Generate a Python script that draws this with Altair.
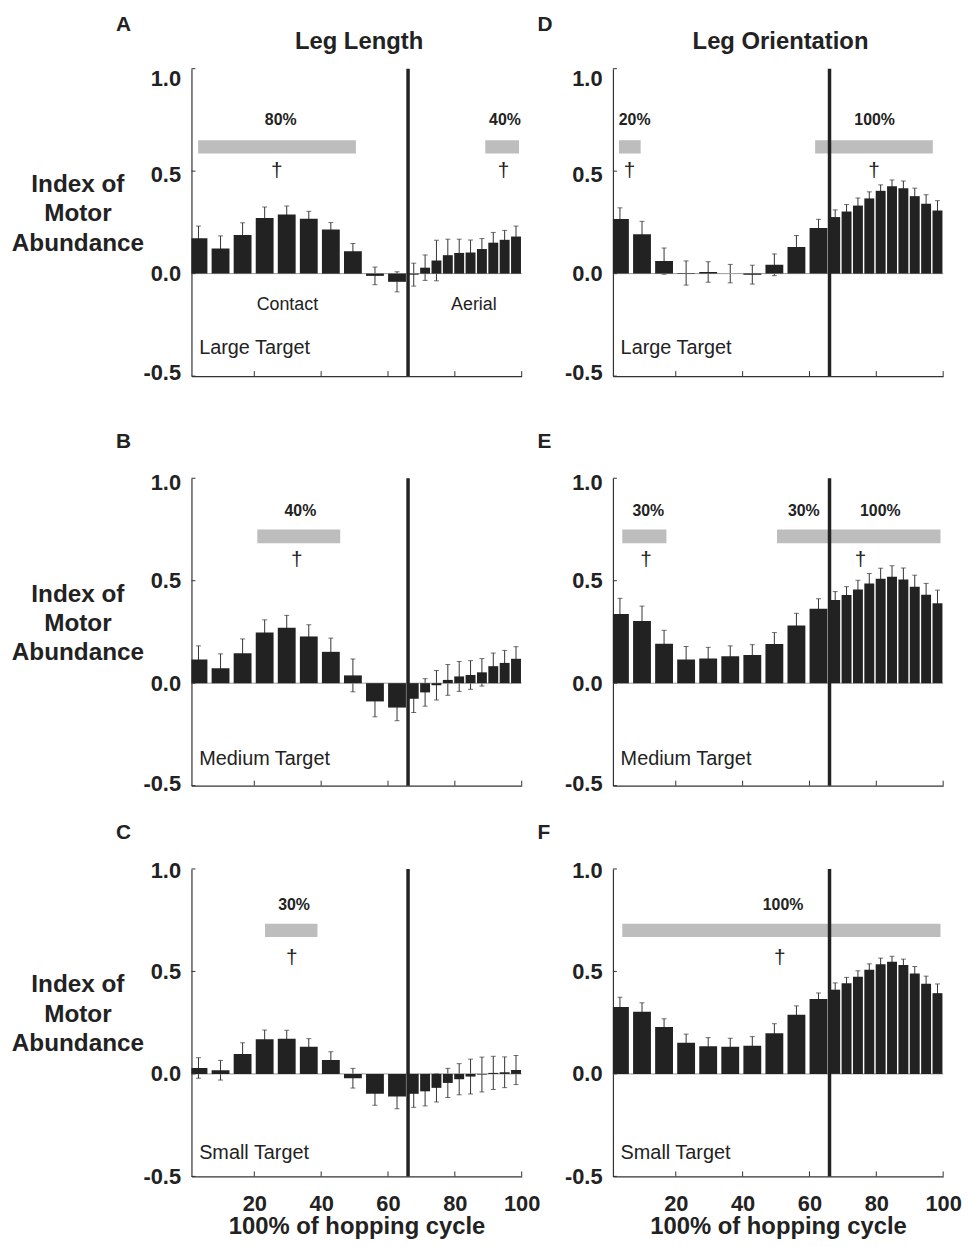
import altair as alt
import pandas as pd

FONT = "Liberation Sans, Arial, sans-serif"
INK = "#222222"

# ---------------- data ----------------
# bin centres (% of hopping cycle): 10 contact bins (0-66 %), 10 aerial bins (66-100 %)
cycle = [3.3, 9.9, 16.5, 23.1, 29.7, 36.3, 42.9, 49.5, 56.1, 62.7,
         67.7, 71.1, 74.5, 77.9, 81.3, 84.7, 88.1, 91.5, 94.9, 98.3]
phase = ["contact"] * 10 + ["aerial"] * 10
phase_boundary = [66]
x_tick_values = [20, 40, 60, 80, 100]
y_tick_values = [-0.5, 0.0, 0.5, 1.0]

A_vals = [0.173, 0.123, 0.189, 0.272, 0.288, 0.268, 0.215, 0.109, -0.011, -0.040,
          -0.005, 0.029, 0.064, 0.090, 0.101, 0.103, 0.120, 0.151, 0.165, 0.181]
A_errs = [0.059, 0.061, 0.059, 0.053, 0.042, 0.036, 0.034, 0.038, 0.043, 0.049,
          0.056, 0.062, 0.099, 0.078, 0.067, 0.061, 0.051, 0.050, 0.046, 0.051]

D_vals = [0.266, 0.192, 0.061, 0.003, 0.008, 0.000, -0.005, 0.043, 0.130, 0.223,
          0.276, 0.303, 0.332, 0.367, 0.404, 0.426, 0.417, 0.378, 0.341, 0.308]
D_errs = [0.055, 0.063, 0.064, 0.059, 0.050, 0.045, 0.046, 0.053, 0.056, 0.042,
          0.035, 0.034, 0.037, 0.032, 0.029, 0.031, 0.035, 0.039, 0.044, 0.048]

B_vals = [0.115, 0.073, 0.146, 0.247, 0.271, 0.228, 0.153, 0.038, -0.089, -0.119,
          -0.076, -0.045, -0.010, 0.016, 0.033, 0.040, 0.053, 0.083, 0.099, 0.119]
B_errs = [0.067, 0.070, 0.070, 0.062, 0.060, 0.057, 0.067, 0.080, 0.075, 0.064,
          0.067, 0.067, 0.072, 0.075, 0.073, 0.070, 0.067, 0.064, 0.061, 0.059]

E_vals = [0.338, 0.303, 0.193, 0.115, 0.121, 0.131, 0.137, 0.191, 0.282, 0.363,
          0.406, 0.430, 0.457, 0.486, 0.510, 0.519, 0.506, 0.471, 0.432, 0.390]
E_errs = [0.076, 0.073, 0.065, 0.064, 0.054, 0.051, 0.051, 0.056, 0.059, 0.049,
          0.041, 0.041, 0.045, 0.049, 0.051, 0.054, 0.056, 0.056, 0.055, 0.064]

C_vals = [0.029, 0.018, 0.097, 0.169, 0.171, 0.132, 0.068, -0.021, -0.097, -0.110,
          -0.097, -0.085, -0.068, -0.044, -0.026, -0.013, -0.003, 0.005, 0.008, 0.019]
C_errs = [0.050, 0.048, 0.055, 0.045, 0.042, 0.040, 0.040, 0.048, 0.056, 0.060,
          0.066, 0.071, 0.069, 0.071, 0.076, 0.085, 0.085, 0.081, 0.075, 0.071]

F_vals = [0.326, 0.303, 0.229, 0.152, 0.135, 0.132, 0.137, 0.198, 0.289, 0.365,
          0.411, 0.442, 0.474, 0.508, 0.535, 0.547, 0.531, 0.490, 0.440, 0.394]
F_errs = [0.048, 0.044, 0.040, 0.042, 0.042, 0.042, 0.045, 0.047, 0.043, 0.030,
          0.033, 0.029, 0.029, 0.029, 0.030, 0.027, 0.029, 0.034, 0.037, 0.045]

# significance ranges (start, end in % cycle), their percentage labels and dagger x
A_sig = [(3.2, 50.4), (89.1, 99.2)]
A_sig_text = ["80%", "40%"]
A_sig_x = [27.9, 95.0]
A_dagger_x = [26.7, 94.6]

D_sig = [(3.0, 9.5), (61.7, 96.9)]
D_sig_text = ["20%", "100%"]
D_sig_x = [7.7, 79.5]
D_dagger_x = [6.2, 79.3]

B_sig = [(20.9, 45.7)]
B_sig_text = ["40%"]
B_sig_x = [33.8]
B_dagger_x = [32.7]

E_sig = [(4.0, 17.2), (50.3, 99.2)]
E_sig_text = ["30%", "30%", "100%"]
E_sig_x = [11.8, 58.3, 81.2]
E_dagger_x = [11.1, 75.3]

C_sig = [(23.2, 38.9)]
C_sig_text = ["30%"]
C_sig_x = [31.9]
C_dagger_x = [31.2]

F_sig = [(4.0, 99.2)]
F_sig_text = ["100%"]
F_sig_x = [52.1]
F_dagger_x = [51.1]

targets = ["Large Target", "Medium Target", "Small Target"]
phase_text = ["Contact", "Aerial"]
phase_text_x = [29.9, 85.7]

# ---------------- layout / style ----------------
W, H = 333, 310
ROW_STYLE = [
    dict(sig=(0.586, 0.651), lab=0.747, dag=0.50, tgt=-0.365, letter_y=-38,
         lab_off=[(1.0, 10), (0.5, 3), (-0.5, -4)]),
    dict(sig=(0.683, 0.750), lab=0.840, dag=0.60, tgt=-0.368, letter_y=-30,
         lab_off=[(1.0, 4), (-0.5, -2)]),
    dict(sig=(0.668, 0.733), lab=0.823, dag=0.565, tgt=-0.385, letter_y=-30,
         lab_off=[(1.0, 2)]),
]

XS = alt.Scale(domain=[1.2, 100], nice=False, zero=False, padding=0)
YS = alt.Scale(domain=[-0.5, 1.0], nice=False, zero=False, padding=0)


def make_panel(vals, errs, sig, sig_text, sig_x, dagger_x, row, col, letter,
               coltitle=None, show_phase=False):
    st = ROW_STYLE[row]
    bottom = row == 2
    left = col == 0

    if bottom:
        xaxis = alt.Axis(values=x_tick_values, labels=True, ticks=False, grid=False,
                         labelFlush=False, labelFontSize=22, labelFontWeight="bold",
                         labelFont=FONT, labelColor=INK, labelPadding=17,
                         title="100% of hopping cycle",
                         titleFontSize=24, titleFontWeight="bold", titleFont=FONT,
                         titleColor=INK, titlePadding=1, domainColor="#333333")
    else:
        xaxis = alt.Axis(values=x_tick_values, labels=False, ticks=False, grid=False,
                         title=None, domainColor="#333333")
    ytitle = ["Index of", "Motor", "Abundance"] if left else None
    label_offset = {"condition": [{"test": "datum.value == %s" % v, "value": o}
                                  for v, o in st["lab_off"]], "value": 0}
    yaxis = alt.Axis(values=y_tick_values, ticks=False, grid=False, labelFlush=False,
                     labelExpr="datum.value < 0 ? '-' + format(-datum.value, '.1f') : format(datum.value, '.1f')",
                     labelFontSize=22, labelFontWeight="bold", labelFont=FONT,
                     labelColor=INK, labelPadding=11, labelOffset=label_offset,
                     title=ytitle,
                     titleAngle=0, titleAlign="center", titleBaseline="alphabetic",
                     titleX=-115, titleY=124, titleLineHeight=29.5,
                     titleFontSize=24.5, titleFontWeight="bold", titleFont=FONT,
                     titleColor=INK, domainColor="#333333")

    def X(field):
        return alt.X(field, type="quantitative", scale=XS, axis=xaxis)

    def Y(field):
        return alt.Y(field, type="quantitative", scale=YS, axis=yaxis)

    df = pd.DataFrame({"x": cycle, "v": vals, "e": errs, "phase": phase})
    base = alt.Chart(df).transform_calculate(
        lo="datum.v - datum.e", hi="datum.v + datum.e", zero="0")

    sig_df = pd.DataFrame({"x": [s[0] for s in sig], "x2": [s[1] for s in sig],
                           "y": [st["sig"][0]] * len(sig), "y2": [st["sig"][1]] * len(sig)})
    sig_layer = alt.Chart(sig_df).mark_rect(color="#bdbdbd").encode(
        x=X("x"), x2="x2:Q", y=Y("y"), y2="y2:Q")

    lab_df = pd.DataFrame({"x": sig_x, "y": [st["lab"]] * len(sig_x), "t": sig_text})
    lab_layer = alt.Chart(lab_df).mark_text(
        font=FONT, fontSize=16, fontWeight="bold", color=INK, baseline="middle",
        align="center").encode(x=X("x"), y=Y("y"), text="t:N")

    dag_df = pd.DataFrame({"x": dagger_x, "y": [st["dag"]] * len(dagger_x),
                           "t": ["\u2020"] * len(dagger_x)})
    dag_layer = alt.Chart(dag_df).mark_text(
        font=FONT, fontSize=21, color=INK, baseline="middle", align="center").encode(
        x=X("x"), y=Y("y"), text="t:N")

    zero_df = pd.DataFrame({"y": [0.0]})
    zero_layer = alt.Chart(zero_df).mark_rule(color="#999999", strokeWidth=1).encode(
        y=Y("y"), x=alt.value(0), x2=alt.value(W))

    err_layer = base.mark_rule(color="#333333", strokeWidth=1).encode(
        x=X("x"), y=Y("lo"), y2="hi:Q")
    cap_lo = base.mark_tick(orient="horizontal", size=5, thickness=1, color="#333333").encode(
        x=X("x"), y=Y("lo"))
    cap_hi = base.mark_tick(orient="horizontal", size=5, thickness=1, color="#333333").encode(
        x=X("x"), y=Y("hi"))

    bars_c = base.transform_filter("datum.phase == 'contact'").mark_bar(
        width=18, color=INK, clip=True).encode(x=X("x"), y=Y("v"), y2="zero:Q")
    bars_a = base.transform_filter("datum.phase == 'aerial'").mark_bar(
        width=10, color=INK).encode(x=X("x"), y=Y("v"), y2="zero:Q")

    vline = alt.Chart(pd.DataFrame({"x": phase_boundary})).mark_rule(
        color=INK, strokeWidth=3.5).encode(x=X("x"), y=alt.value(0), y2=alt.value(H))

    xt = alt.Chart(pd.DataFrame({"t": x_tick_values})).mark_rule(
        color="#333333", strokeWidth=1).encode(x=X("t"), y=alt.value(H), y2=alt.value(H - 5))
    yt = alt.Chart(pd.DataFrame({"t": y_tick_values})).mark_rule(
        color="#333333", strokeWidth=1).encode(y=Y("t"), x=alt.value(0), x2=alt.value(4))

    tgt_df = pd.DataFrame({"x": [3.5], "y": [st["tgt"]], "t": [targets[row]]})
    tgt_layer = alt.Chart(tgt_df).mark_text(
        font=FONT, fontSize=20, color=INK, align="left", baseline="middle").encode(
        x=X("x"), y=Y("y"), text="t:N")

    letter_layer = alt.Chart(pd.DataFrame({"t": [letter]})).mark_text(
        font=FONT, fontSize=21, fontWeight="bold", color=INK, align="left",
        baseline="alphabetic").encode(x=alt.value(-76), y=alt.value(st["letter_y"]), text="t:N")

    layers = [sig_layer, lab_layer, dag_layer, err_layer, cap_lo, cap_hi, zero_layer,
              bars_c, bars_a, vline, xt, yt, tgt_layer, letter_layer]

    if show_phase:
        ph_df = pd.DataFrame({"x": phase_text_x, "y": [-0.153] * 2, "t": phase_text})
        layers.append(alt.Chart(ph_df).mark_text(
            font=FONT, fontSize=18, color=INK, align="center", baseline="middle").encode(
            x=X("x"), y=Y("y"), text="t:N"))
    if coltitle:
        layers.append(alt.Chart(pd.DataFrame({"t": [coltitle]})).mark_text(
            font=FONT, fontSize=24, fontWeight="bold", color=INK, align="center",
            baseline="alphabetic").encode(x=alt.value(169), y=alt.value(-20), text="t:N"))

    return alt.layer(*layers).properties(width=W, height=H)


pA = make_panel(A_vals, A_errs, A_sig, A_sig_text, A_sig_x, A_dagger_x, 0, 0, "A",
                coltitle="Leg Length", show_phase=True)
pD = make_panel(D_vals, D_errs, D_sig, D_sig_text, D_sig_x, D_dagger_x, 0, 1, "D",
                coltitle="Leg Orientation")
pB = make_panel(B_vals, B_errs, B_sig, B_sig_text, B_sig_x, B_dagger_x, 1, 0, "B")
pE = make_panel(E_vals, E_errs, E_sig, E_sig_text, E_sig_x, E_dagger_x, 1, 1, "E")
pC = make_panel(C_vals, C_errs, C_sig, C_sig_text, C_sig_x, C_dagger_x, 2, 0, "C")
pF = make_panel(F_vals, F_errs, F_sig, F_sig_text, F_sig_x, F_dagger_x, 2, 1, "F")

row1 = alt.hconcat(pA, pD, spacing=92, bounds="flush")
rows23 = alt.concat(pB, pE, pC, pF, columns=2, bounds="flush",
                    spacing={"row": 84, "column": 92})

chart = alt.vconcat(row1, rows23, spacing=49).properties(
    padding={"left": 3, "top": 1, "right": 0, "bottom": 0}
).configure_view(stroke=None).configure_axis(domainWidth=1.2)

chart.save("out.html", embed_options={"renderer": "svg", "actions": False})
